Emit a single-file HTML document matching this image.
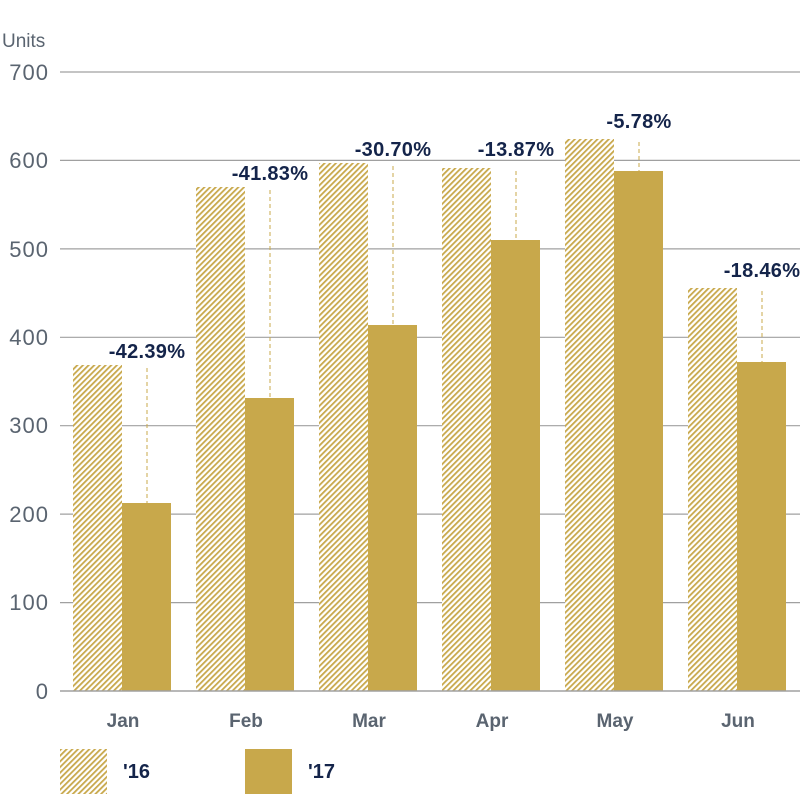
<!DOCTYPE html>
<html><head><style>body{margin:0;background:#fff}svg{display:block}</style></head><body>
<svg width="801" height="795" xmlns="http://www.w3.org/2000/svg" font-family="Liberation Sans, sans-serif">
<defs>
<pattern id="h" patternUnits="userSpaceOnUse" width="4" height="4" patternTransform="rotate(45)">
<rect width="4" height="4" fill="#fff"/><rect width="1.8" height="4" fill="#c8a84b"/>
</pattern>
</defs>
<text x="2" y="47" font-size="19" fill="#5a6470">Units</text>
<g stroke="#a0a0a0" stroke-width="1.2">
<line x1="60" x2="800" y1="72" y2="72"/><line x1="60" x2="800" y1="160.4" y2="160.4"/>
<line x1="60" x2="800" y1="248.9" y2="248.9"/><line x1="60" x2="800" y1="337.3" y2="337.3"/>
<line x1="60" x2="800" y1="425.7" y2="425.7"/><line x1="60" x2="800" y1="514.1" y2="514.1"/>
<line x1="60" x2="800" y1="602.6" y2="602.6"/>
</g>
<g font-size="22" fill="#5a6470" text-anchor="end" letter-spacing="1">
<text x="49" y="80">700</text><text x="49" y="168">600</text><text x="49" y="257">500</text>
<text x="49" y="345">400</text><text x="49" y="433">300</text><text x="49" y="522">200</text>
<text x="49" y="610">100</text><text x="49" y="699">0</text>
</g>
<g fill="url(#h)">
<rect x="73" y="365" width="49" height="326"/><rect x="196" y="187" width="49" height="504"/>
<rect x="319" y="163" width="49" height="528"/><rect x="442" y="168" width="49" height="523"/>
<rect x="565" y="139" width="49" height="552"/><rect x="688" y="288" width="49" height="403"/>
</g>
<g fill="#c8a84b">
<rect x="122" y="503" width="49" height="188"/><rect x="245" y="398" width="49" height="293"/>
<rect x="368" y="325" width="49" height="366"/><rect x="491" y="240" width="49" height="451"/>
<rect x="614" y="171" width="49" height="520"/><rect x="737" y="362" width="49" height="329"/>
</g>
<line x1="60" x2="800" y1="691" y2="691" stroke="#a0a0a0" stroke-width="1.5"/>
<g stroke="#c8a84b" stroke-width="1" stroke-dasharray="4,3">
<line x1="147" x2="147" y1="368" y2="503"/><line x1="270" x2="270" y1="190" y2="398"/>
<line x1="393" x2="393" y1="166" y2="325"/><line x1="516" x2="516" y1="171" y2="240"/>
<line x1="639" x2="639" y1="142" y2="171"/><line x1="762" x2="762" y1="291" y2="362"/>
</g>
<g font-size="20" fill="#14244a" text-anchor="middle" font-weight="bold" letter-spacing="0.3">
<text x="147" y="358">-42.39%</text><text x="270" y="180">-41.83%</text>
<text x="393" y="156">-30.70%</text><text x="516" y="156">-13.87%</text>
<text x="639" y="128">-5.78%</text><text x="762" y="277">-18.46%</text>
</g>
<g font-size="19" fill="#5a6470" text-anchor="middle" font-weight="bold">
<text x="123" y="727">Jan</text><text x="246" y="727">Feb</text><text x="369" y="727">Mar</text>
<text x="492" y="727">Apr</text><text x="615" y="727">May</text><text x="738" y="727">Jun</text>
</g>
<rect x="60" y="749" width="47" height="45" fill="url(#h)"/>
<text x="123" y="778" font-size="20" font-weight="bold" fill="#14244a">'16</text>
<rect x="245" y="749" width="47" height="45" fill="#c8a84b"/>
<text x="308" y="778" font-size="20" font-weight="bold" fill="#14244a">'17</text>
</svg>
</body></html>
